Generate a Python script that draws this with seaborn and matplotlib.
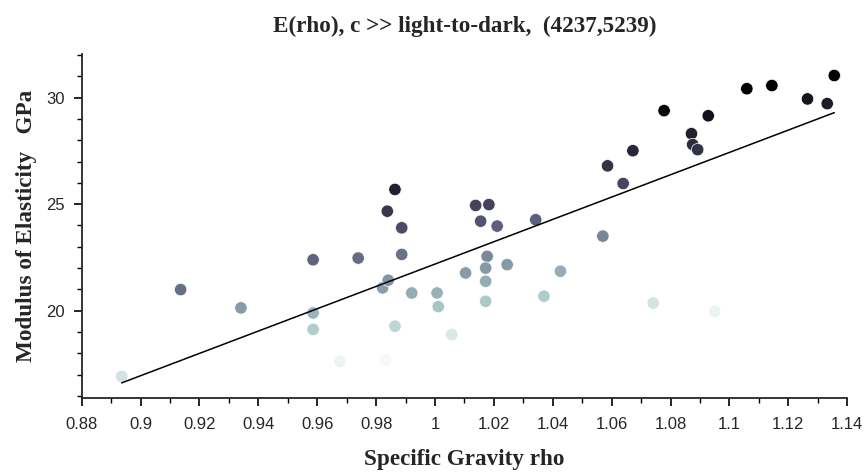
import numpy as np
import pandas as pd
import matplotlib
matplotlib.use("Agg")
import matplotlib.pyplot as plt
from matplotlib.ticker import MultipleLocator
import seaborn as sns

# specific gravity and modulus of elasticity
rho = [0.8936, 0.9136, 0.9341, 0.9586, 0.9586, 0.9586, 0.9677, 0.9739, 0.9822,
       0.9841, 0.9864, 0.9838, 0.9887, 0.9887, 0.9864, 0.9833, 0.9921, 1.0007,
       1.0011, 1.0057, 1.0104, 1.0138, 1.0183, 1.0155, 1.0211, 1.0177, 1.0172,
       1.0172, 1.0172, 1.0245, 1.0342, 1.0426, 1.0370, 1.0570, 1.0639, 1.0586,
       1.0672, 1.0741, 1.0778, 1.0871, 1.0875, 1.0892, 1.0928, 1.0950, 1.1059,
       1.1144, 1.1265, 1.1332, 1.1356]
E = [16.91, 20.99, 20.13, 22.39, 19.89, 19.12, 17.62, 22.47, 21.07,
     21.43, 25.69, 24.67, 23.89, 22.64, 19.27, 17.69, 20.83, 20.83,
     20.19, 18.88, 21.77, 24.94, 24.98, 24.20, 23.97, 22.55, 22.00,
     21.38, 20.44, 22.16, 24.27, 21.85, 20.68, 23.50, 25.97, 26.80,
     27.51, 20.36, 29.39, 28.31, 27.80, 27.56, 29.15, 19.97, 30.42,
     30.57, 29.94, 29.72, 31.04]

df = pd.DataFrame({"rho": rho, "E": E})
# colour = specific modulus (E / rho), light-to-dark
df["c"] = df["E"] / df["rho"]

sns.set_style("ticks")
plt.rcParams["font.family"] = ["Liberation Sans", "DejaVu Sans"]

fig = plt.figure(figsize=(8.67, 4.72), dpi=100)
ax = fig.add_axes([0.0942, 0.1568, 0.883, 0.7288])

sns.scatterplot(data=df, x="rho", y="E", hue="c", palette="bone_r",
                hue_norm=(df["c"].min() - 0.3, df["c"].max()),
                s=80, edgecolor="white", linewidth=0.5, legend=False, ax=ax)
sns.regplot(data=df, x="rho", y="E", scatter=False, ci=None, truncate=True,
            color="black", line_kws=dict(lw=1.1), ax=ax)

ax.set_xlim(0.88, 1.14)
ax.set_ylim(15.9, 32.05)
ax.xaxis.set_major_locator(MultipleLocator(0.02))
ax.xaxis.set_minor_locator(MultipleLocator(0.01))
ax.yaxis.set_major_locator(MultipleLocator(5))
ax.yaxis.set_minor_locator(MultipleLocator(1))
ax.xaxis.set_major_formatter(plt.FuncFormatter(lambda v, p: f"{v:.2f}".rstrip("0").rstrip(".")))
ax.tick_params(axis="both", which="major", length=6, width=1.2, labelsize=12, color="black")
ax.tick_params(axis="both", which="minor", length=3.5, width=1.0, color="black")
ax.tick_params(axis="x", which="major", pad=8)
ax.tick_params(axis="y", which="major", pad=6)
sns.despine(ax=ax)
for sp in ("left", "bottom"):
    ax.spines[sp].set_linewidth(1.3)

serif = ["Liberation Serif", "DejaVu Serif"]
ax.set_title("E(rho), c >> light-to-dark,  (4237,5239)", family=serif,
             fontweight="bold", fontsize=16.7, pad=16)
ax.set_xlabel("Specific Gravity rho", family=serif, fontweight="bold",
              fontsize=16.7, labelpad=12)
ax.set_ylabel("Modulus of Elasticity   GPa", family=serif, fontweight="bold",
              fontsize=16.7, labelpad=7)

plt.savefig("out.png", dpi=100)
